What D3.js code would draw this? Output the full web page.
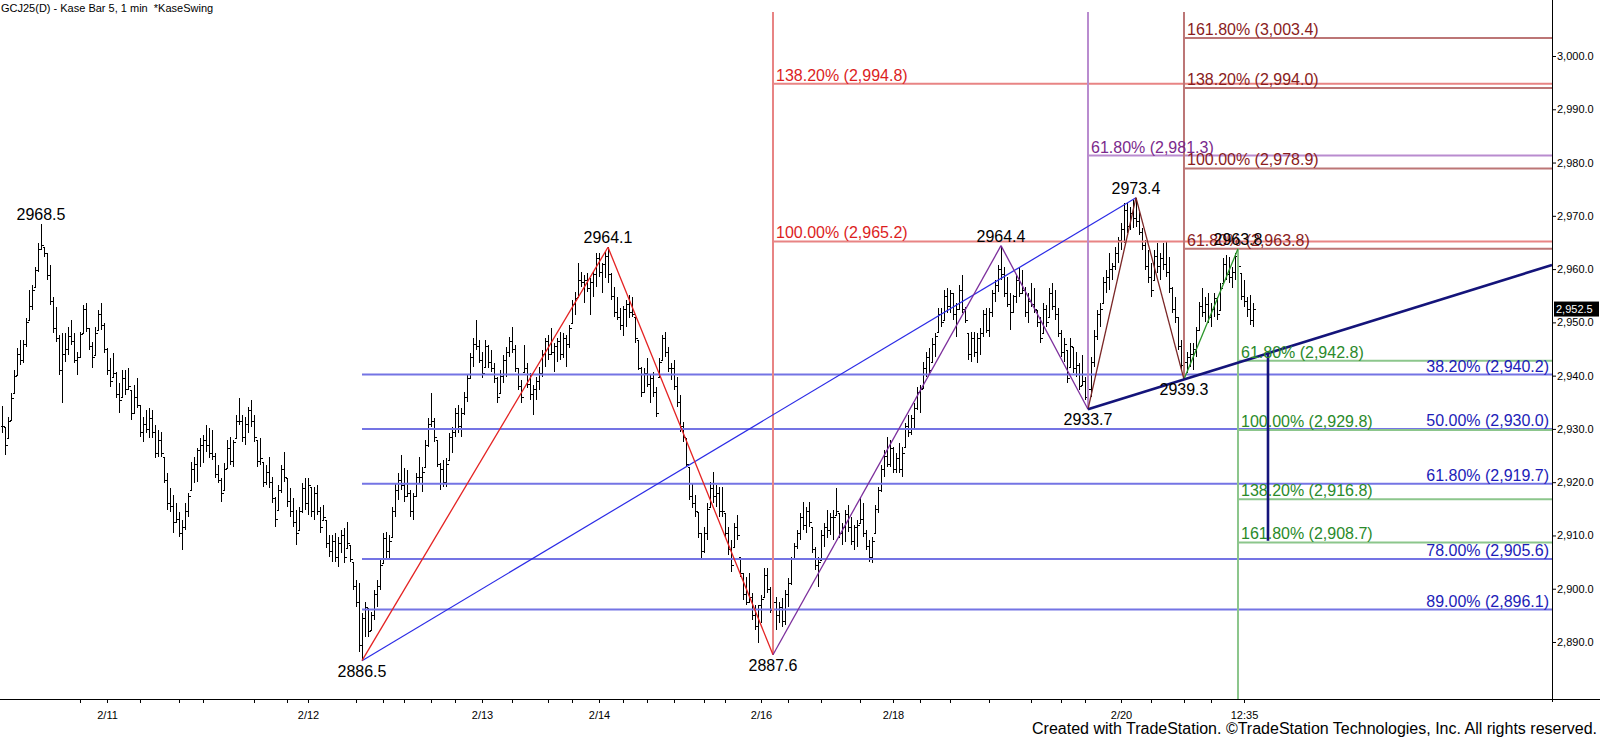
<!DOCTYPE html>
<html>
<meta charset="utf-8">
<style>
    body { margin: 0; background: #ffffff; }
    svg { display: block; background: #ffffff; }
    text { font-family: 'Liberation Sans', Arial, sans-serif; }
    .axis text { font-size: 11px; fill: #000; }
    .axis line, .axis path { stroke: #000; }
</style>
<body>
<svg width="1600" height="739"></svg>

<script src="https://d3js.org/d3.v7.min.js"></script>
<script>
    // bar data, one entry per bar
    let highs = [2934.3,2930.4,2932.2,2936.7,2941.0,2945.2,2946.7,2946.7,2950.8,2956.0,2957.0,2960.4,2964.9,2968.5,2964.1,2963.0,2960.8,2954.8,2952.9,2947.6,
      2948.0,2948.0,2949.1,2950.4,2948.0,2944.4,2948.2,2953.3,2953.6,2948.9,2946.3,2949.1,2952.3,2953.6,2949.9,2945.2,2943.3,2944.2,2940.7,2938.6,
      2941.0,2941.0,2941.4,2937.3,2938.2,2939.6,2934.5,2932.2,2933.5,2933.9,2933.5,2930.7,2929.8,2929.4,2924.7,2921.7,2918.9,2917.6,2916.1,2914.4,
      2912.9,2916.1,2918.0,2923.8,2924.7,2926.5,2928.3,2928.9,2930.7,2930.2,2929.8,2925.5,2923.2,2920.8,2923.6,2928.0,2928.5,2928.0,2932.6,2935.8,
      2932.6,2932.2,2934.1,2935.4,2932.6,2928.0,2928.3,2923.8,2923.2,2924.7,2921.0,2917.2,2919.5,2923.2,2925.7,2920.8,2918.9,2917.0,2914.8,2915.3,
      2919.8,2920.8,2920.8,2919.1,2919.1,2919.5,2915.3,2915.7,2912.9,2910.1,2910.1,2910.5,2909.7,2911.0,2911.4,2912.5,2908.2,2905.0,2901.6,2901.1,
      2895.4,2897.5,2896.4,2895.6,2899.8,2901.6,2905.4,2910.5,2910.6,2910.1,2915.3,2919.8,2921.7,2925.1,2922.7,2922.3,2918.5,2918.0,2921.7,2924.7,
      2922.8,2927.9,2932.0,2936.7,2932.0,2927.9,2923.6,2924.2,2924.5,2929.2,2930.4,2933.9,2934.5,2933.9,2936.9,2940.1,2944.2,2947.1,2950.4,2946.7,
      2944.4,2946.7,2945.7,2944.8,2942.4,2939.7,2941.0,2943.9,2945.4,2947.3,2949.1,2945.7,2941.4,2939.2,2945.7,2942.4,2940.5,2938.2,2939.7,2941.6,
      2944.8,2947.1,2947.6,2948.9,2946.1,2947.1,2948.2,2948.0,2947.6,2949.5,2954.2,2955.7,2961.1,2959.5,2958.9,2959.3,2958.3,2959.5,2963.0,2963.0,
      2961.1,2963.2,2964.1,2959.3,2956.6,2954.8,2952.7,2953.0,2954.2,2955.1,2954.8,2951.0,2946.7,2941.6,2941.4,2943.3,2940.1,2940.7,2937.9,2943.3,
      2947.6,2948.2,2945.4,2942.4,2942.9,2939.7,2936.4,2931.3,2928.3,2922.8,2919.8,2917.6,2914.4,2910.5,2911.6,2916.1,2920.0,2921.9,2919.5,2919.1,
      2919.1,2914.2,2911.6,2909.1,2912.3,2913.8,2906.0,2902.9,2902.2,2902.9,2899.2,2896.9,2896.9,2898.8,2903.9,2903.9,2900.3,2898.4,2898.4,2897.5,
      2898.3,2899.8,2902.0,2906.0,2908.6,2911.0,2914.2,2916.3,2915.3,2916.3,2911.6,2907.8,2906.0,2911.0,2912.3,2914.8,2914.2,2914.8,2918.9,2914.2,
      2912.3,2914.8,2915.7,2913.5,2912.0,2912.9,2917.2,2916.1,2911.0,2909.1,2909.7,2915.7,2919.1,2923.2,2926.0,2928.5,2927.9,2926.6,2925.5,2927.4,
      2926.6,2931.1,2932.6,2932.6,2934.9,2937.9,2938.2,2942.6,2944.4,2945.2,2947.1,2948.0,2952.7,2952.7,2956.1,2956.4,2956.1,2955.5,2953.6,2957.0,
      2958.9,2952.9,2948.0,2948.2,2948.2,2948.0,2948.9,2952.3,2952.7,2952.7,2956.1,2958.0,2960.8,2964.4,2960.4,2958.5,2955.5,2955.1,2958.9,2960.2,
      2959.8,2956.6,2955.5,2957.4,2956.4,2952.3,2951.0,2953.6,2953.3,2956.4,2957.4,2956.1,2952.7,2948.6,2947.1,2944.8,2947.1,2945.4,2944.4,2942.4,
      2943.9,2939.7,2938.2,2943.5,2948.6,2952.3,2953.6,2958.5,2959.8,2963.0,2961.1,2964.1,2966.0,2968.6,2972.4,2972.4,2971.7,2973.0,2973.4,2971.1,
      2967.7,2965.5,2963.6,2961.1,2963.6,2964.9,2963.0,2964.9,2965.1,2962.3,2956.6,2954.8,2951.0,2946.7,2943.5,2944.4,2946.1,2946.1,2949.1,2953.8,
      2956.4,2954.8,2955.5,2953.6,2955.5,2954.8,2957.4,2962.1,2962.6,2962.3,2960.4,2963.0,2963.8,2959.3,2958.0,2954.8,2955.1,2953.6];

    let lows = [2929.2,2925.1,2928.3,2931.7,2936.7,2940.1,2942.0,2942.4,2945.4,2950.4,2952.3,2956.6,2959.5,2963.6,2962.3,2958.0,2953.3,2948.0,2946.3,2940.1,
      2934.9,2942.6,2943.9,2945.7,2942.4,2940.1,2943.3,2948.0,2948.2,2944.8,2941.4,2943.9,2948.6,2948.6,2944.2,2940.1,2937.9,2939.7,2935.8,2933.0,
      2936.0,2936.4,2937.3,2931.7,2933.0,2933.9,2928.5,2927.5,2929.2,2928.3,2928.3,2924.5,2924.7,2924.7,2919.8,2914.8,2914.4,2910.5,2912.3,2909.7,
      2907.3,2911.0,2913.5,2918.5,2919.8,2920.0,2922.8,2923.6,2925.7,2924.5,2924.2,2920.8,2919.8,2916.3,2918.5,2922.7,2923.2,2922.8,2928.3,2930.7,
      2927.5,2927.0,2929.2,2930.4,2927.5,2922.8,2923.2,2919.1,2919.5,2918.9,2916.1,2911.6,2914.8,2918.0,2920.0,2915.4,2913.5,2911.6,2908.2,2911.0,
      2914.2,2914.8,2913.8,2913.5,2912.9,2913.8,2910.5,2912.9,2907.6,2906.0,2905.0,2905.0,2904.1,2906.7,2904.8,2907.6,2905.0,2899.8,2896.6,2888.1,
      2886.5,2890.9,2890.9,2892.2,2894.1,2896.6,2899.8,2904.8,2905.8,2905.8,2909.7,2913.5,2916.7,2918.5,2916.3,2917.2,2913.5,2912.9,2917.2,2919.8,
      2918.2,2922.8,2926.6,2930.4,2927.5,2922.8,2918.5,2919.1,2919.1,2924.2,2925.5,2928.5,2929.2,2928.5,2932.6,2935.0,2939.6,2941.6,2944.8,2942.4,
      2939.6,2941.6,2941.4,2940.7,2938.7,2934.9,2936.7,2938.6,2939.7,2943.5,2944.2,2940.7,2937.3,2934.9,2940.7,2937.7,2935.4,2932.6,2935.4,2937.3,
      2939.7,2941.6,2942.9,2943.9,2940.7,2942.6,2942.9,2943.3,2941.6,2945.2,2949.9,2951.4,2954.8,2956.6,2953.6,2955.7,2951.4,2954.8,2956.6,2958.5,
      2955.5,2958.3,2957.4,2954.2,2951.0,2950.4,2948.6,2947.5,2949.1,2950.8,2951.0,2946.1,2941.0,2936.0,2936.7,2937.9,2934.9,2936.0,2932.2,2939.7,
      2942.9,2943.5,2940.7,2939.2,2937.3,2934.1,2929.4,2927.5,2922.8,2916.7,2915.1,2913.5,2909.5,2905.8,2906.7,2909.1,2915.3,2916.1,2915.3,2913.5,
      2913.5,2909.7,2906.3,2903.1,2907.8,2909.1,2902.2,2897.9,2896.9,2897.5,2894.1,2892.2,2889.8,2893.5,2898.4,2899.2,2895.4,2887.6,2892.2,2893.5,
      2892.8,2893.2,2896.5,2900.7,2905.4,2907.5,2909.1,2911.0,2910.5,2911.6,2906.7,2903.5,2900.3,2905.4,2907.8,2909.5,2910.0,2909.1,2913.8,2909.5,
      2908.2,2908.8,2910.6,2908.2,2907.3,2907.8,2912.3,2909.7,2907.3,2905.0,2904.8,2910.5,2914.2,2918.2,2921.0,2922.8,2922.8,2921.7,2921.7,2921.7,
      2921.0,2926.6,2928.5,2928.9,2930.2,2933.5,2933.0,2937.7,2939.7,2940.1,2942.6,2943.5,2948.2,2949.1,2950.4,2951.8,2951.8,2950.4,2947.3,2952.3,
      2951.8,2949.9,2942.9,2942.6,2943.5,2942.4,2943.9,2947.3,2948.0,2947.3,2951.0,2953.8,2955.7,2958.0,2954.8,2952.9,2948.6,2951.8,2953.6,2954.8,
      2955.5,2951.0,2949.9,2952.9,2951.8,2949.1,2946.1,2948.0,2949.1,2951.0,2952.3,2950.4,2947.3,2943.5,2942.6,2938.6,2941.6,2940.5,2939.7,2937.3,
      2938.2,2935.4,2933.7,2936.0,2941.6,2946.7,2949.1,2953.6,2955.5,2956.1,2958.0,2959.8,2961.1,2963.6,2964.9,2966.8,2967.3,2967.7,2967.9,2966.4,
      2963.6,2959.8,2957.4,2954.8,2958.0,2959.3,2958.0,2959.8,2958.5,2955.5,2951.8,2949.9,2944.8,2941.0,2939.3,2940.5,2941.6,2941.0,2943.5,2948.6,
      2951.0,2950.1,2949.9,2949.1,2951.0,2950.4,2952.3,2957.4,2958.0,2957.4,2956.4,2958.0,2959.8,2954.2,2952.9,2951.0,2949.5,2949.1];

    let closes = [2930.5,2927.0,2931.5,2935.8,2940.0,2944.0,2943.0,2945.9,2950.0,2953.0,2956.0,2959.8,2963.8,2964.5,2963.0,2958.8,2954.0,2949.0,2947.0,2941.0,
      2944.0,2945.0,2947.5,2946.5,2943.0,2943.5,2947.8,2952.5,2949.0,2945.5,2943.5,2948.0,2951.5,2949.5,2945.0,2941.0,2939.0,2940.5,2936.5,2935.5,
      2939.5,2937.5,2938.0,2933.0,2936.0,2934.5,2929.5,2931.0,2930.0,2932.0,2929.5,2925.5,2928.0,2925.5,2920.5,2916.0,2915.5,2912.5,2913.0,2910.5,
      2911.5,2914.5,2917.5,2922.5,2923.5,2926.0,2927.0,2928.0,2927.0,2925.5,2925.0,2921.5,2920.5,2918.0,2922.5,2926.5,2924.0,2927.5,2931.5,2931.5,
      2928.5,2931.0,2933.5,2931.5,2928.5,2924.0,2924.5,2920.0,2922.0,2920.0,2917.0,2913.0,2918.5,2922.5,2921.0,2916.5,2914.5,2912.5,2910.5,2914.5,
      2919.0,2916.0,2919.5,2914.5,2918.0,2914.5,2911.5,2913.5,2908.5,2907.0,2909.0,2906.0,2908.5,2910.0,2906.0,2908.5,2905.5,2900.5,2897.5,2889.5,
      2894.5,2896.5,2892.0,2895.0,2899.0,2900.5,2904.5,2909.5,2907.0,2909.0,2914.5,2918.5,2920.5,2919.5,2917.5,2918.0,2914.5,2917.5,2921.0,2921.0,
      2922.0,2927.0,2931.0,2931.5,2928.5,2923.5,2922.5,2920.0,2923.5,2928.5,2929.5,2933.0,2930.5,2933.0,2936.0,2939.5,2943.5,2946.0,2945.5,2943.0,
      2940.5,2945.5,2942.5,2941.5,2939.5,2936.0,2940.0,2943.0,2944.5,2946.5,2945.0,2941.5,2938.0,2936.0,2941.5,2938.5,2936.5,2937.5,2939.0,2940.5,
      2944.0,2946.5,2944.0,2944.5,2945.5,2946.5,2944.0,2947.0,2946.0,2949.0,2953.5,2954.5,2958.0,2957.5,2958.0,2956.5,2957.5,2959.0,2962.0,2959.5,
      2961.0,2962.5,2959.0,2955.0,2952.0,2951.0,2949.5,2952.5,2953.5,2952.0,2951.5,2947.0,2941.5,2937.0,2940.5,2938.5,2939.5,2937.0,2933.0,2942.5,
      2947.0,2944.5,2941.5,2941.5,2938.0,2935.0,2930.5,2928.5,2923.5,2917.5,2916.0,2914.5,2910.5,2907.0,2910.5,2915.0,2919.0,2917.5,2918.0,2914.5,
      2914.5,2910.5,2907.5,2904.5,2911.5,2910.0,2903.0,2899.0,2897.5,2898.5,2895.0,2893.0,2897.0,2898.0,2902.5,2900.0,2896.0,2897.5,2895.0,2896.5,
      2894.0,2899.0,2901.0,2905.5,2908.0,2910.5,2913.5,2912.0,2914.5,2912.5,2907.5,2904.5,2905.0,2910.0,2911.5,2911.0,2913.5,2913.5,2914.5,2910.5,
      2911.5,2914.0,2911.5,2909.0,2911.5,2912.0,2913.0,2910.5,2908.0,2906.0,2909.0,2915.0,2918.5,2922.5,2925.0,2923.5,2926.5,2922.5,2924.5,2922.5,
      2925.5,2930.5,2929.5,2932.0,2934.0,2937.0,2937.5,2941.5,2943.5,2941.0,2946.0,2947.5,2951.5,2950.0,2955.0,2953.0,2955.5,2951.5,2952.5,2956.0,
      2952.5,2950.5,2944.0,2947.0,2944.5,2947.0,2948.0,2951.5,2948.5,2952.0,2955.5,2957.0,2960.0,2959.0,2955.5,2953.5,2952.0,2955.0,2958.0,2955.5,
      2956.0,2952.0,2954.0,2953.5,2952.5,2950.0,2947.0,2952.5,2950.0,2955.5,2953.0,2951.5,2948.0,2944.5,2946.0,2939.5,2945.5,2941.5,2942.0,2938.0,
      2939.0,2936.0,2937.5,2942.5,2947.5,2951.5,2952.5,2957.5,2958.5,2960.0,2960.5,2963.0,2965.5,2967.5,2971.0,2968.0,2970.5,2969.5,2969.0,2967.0,
      2964.5,2960.5,2958.5,2956.0,2962.5,2960.5,2962.0,2961.0,2959.5,2956.5,2952.5,2951.0,2945.5,2942.0,2942.5,2943.5,2944.0,2945.0,2948.5,2953.0,
      2952.0,2953.5,2951.0,2952.5,2954.5,2951.5,2956.5,2961.0,2959.0,2958.5,2959.5,2962.5,2960.5,2955.0,2954.0,2952.5,2950.5,2952.5];

    // x axis: bar index of each tick, and the labelled ones
    let minorTicks = [26,46,59,67,84,95,118,127,134,143,151,170,182,190,207,215,224,234,241,262,273,286,306,316,329,343,353,361,383,394,403];
    let labelTicks = [35,102,160,199,253,297,373,414];
    let labelTexts = ["2/11","2/12","2/13","2/14","2/16","2/18","2/20","12:35"];
    let priceTicks = [2890,2900,2910,2920,2930,2940,2950,2960,2970,2980,2990,3000];

    // swing points (bar index, price, label above?)
    let swingIdx = [13,120,202,257,333,362,378,394,412];
    let swingVal = [2968.5,2886.5,2964.1,2887.6,2964.4,2933.7,2973.4,2939.3,2963.8];
    let swingUp  = [true,false,true,false,true,false,true,false,true];

    // fib levels per study
    let redPct = [138.2,100.0], redVal = [2994.8,2965.2];
    let brownPct = [161.8,138.2,100.0,61.8], brownVal = [3003.4,2994.0,2978.9,2963.8];
    let purplePct = [61.8], purpleVal = [2981.3];
    let greenPct = [61.8,100.0,138.2,161.8], greenVal = [2942.8,2929.8,2916.8,2908.7];
    let bluePct = [38.2,50.0,61.8,78.0,89.0], blueVal = [2940.2,2930.0,2919.7,2905.6,2896.1];

    let lastPrice = 2952.5;
    let trendA = [362,2933.7], trendB = [394,2939.3];
    let measureIdx = 422, measureLow = 2909.0;

    let plotRight = 1552, plotBottom = 699;

    let svg = d3.select("svg");

    let xScale = d3.scaleLinear().domain([0, 516.67]).range([2, plotRight]);
    let yScale = d3.scaleLinear().domain([2890, 3000]).range([642, 56]);
    let yTop = yScale.invert(12);

    // title
    svg.append("text").attr("x", 1).attr("y", 12).style("font-size", "11px").style("white-space", "pre")
       .text("GCJ25(D) - Kase Bar 5, 1 min  *KaseSwing");

    // bars
    let bars = svg.append("g").attr("stroke", "#000").attr("stroke-width", 1).attr("shape-rendering", "crispEdges");
    let barData = highs.map((h, i) => ({i: i, h: h, l: lows[i], c: closes[i],
        o: Math.max(lows[i], Math.min(h, i > 0 ? closes[i-1] : closes[i]))}));
    barData.forEach(function(d) {
        let x = Math.round(xScale(d.i)) + 0.5;
        bars.append("line").attr("x1", x).attr("x2", x).attr("y1", yScale(d.h)).attr("y2", yScale(d.l));
        bars.append("line").attr("x1", x - 2).attr("x2", x).attr("y1", Math.round(yScale(d.o)) + 0.5).attr("y2", Math.round(yScale(d.o)) + 0.5);
        bars.append("line").attr("x1", x).attr("x2", x + 2).attr("y1", Math.round(yScale(d.c)) + 0.5).attr("y2", Math.round(yScale(d.c)) + 0.5);
    });

    let fmt = d3.format(",.1f");
    function levelText(p, v) { return p.toFixed(2) + "% (" + fmt(v) + ")"; }

    // fib studies
    let studies = [
        {pct: bluePct, val: blueVal, from: 120, line: "#7474e4", text: "#1c1cb8", align: "end"},
        {pct: redPct, val: redVal, from: 257, line: "#e88484", text: "#dc1e1e", align: "start", vTop: yTop, vBot: 2887.6},
        {pct: purplePct, val: purpleVal, from: 362, line: "#b98ccf", text: "#7b2a8c", align: "start", vTop: yTop, vBot: 2933.7},
        {pct: brownPct, val: brownVal, from: 394, line: "#bc7676", text: "#8a1c1c", align: "start", vTop: yTop, vBot: 2939.3},
        {pct: greenPct, val: greenVal, from: 412, line: "#8cc68c", text: "#2a8a2a", align: "start", vTop: 2963.8, vBot: yScale.invert(plotBottom)}
    ];

    let fibG = svg.append("g");
    studies.forEach(function(s) {
        let x0 = xScale(s.from);
        if (s.vTop !== undefined) {
            fibG.append("line").attr("x1", x0).attr("x2", x0).attr("y1", yScale(s.vTop)).attr("y2", yScale(s.vBot))
                .attr("stroke", s.line).attr("stroke-width", 2);
        }
        s.val.forEach(function(v, k) {
            fibG.append("line").attr("x1", x0).attr("x2", plotRight).attr("y1", yScale(v)).attr("y2", yScale(v))
                .attr("stroke", s.line).attr("stroke-width", 2);
        });
    });

    // swing lines
    function seg(a, b, color, w) {
        svg.append("line").attr("x1", xScale(swingIdx[a])).attr("y1", yScale(swingVal[a]))
           .attr("x2", xScale(swingIdx[b])).attr("y2", yScale(swingVal[b]))
           .attr("stroke", color).attr("stroke-width", w);
    }
    seg(1, 6, "#2b2be6", 1.2);
    seg(1, 2, "#e42222", 1.3);
    seg(2, 3, "#e42222", 1.3);
    seg(3, 4, "#7c2e9c", 1.3);
    seg(4, 5, "#7c2e9c", 1.3);
    seg(5, 6, "#7a2626", 1.3);
    seg(6, 7, "#7a2626", 1.3);
    seg(7, 8, "#2a962a", 1.3);

    // trend line through the two lows, run to the right edge
    let slope = (trendB[1] - trendA[1]) / (trendB[0] - trendA[0]);
    let endIdx = xScale.invert(plotRight);
    svg.append("line").attr("x1", xScale(trendA[0])).attr("y1", yScale(trendA[1]))
       .attr("x2", plotRight).attr("y2", yScale(trendA[1] + slope * (endIdx - trendA[0])))
       .attr("stroke", "#14147a").attr("stroke-width", 2.6);
    svg.append("line").attr("x1", xScale(measureIdx)).attr("x2", xScale(measureIdx))
       .attr("y1", yScale(trendA[1] + slope * (measureIdx - trendA[0]))).attr("y2", yScale(measureLow))
       .attr("stroke", "#14147a").attr("stroke-width", 2.6);

    // fib labels
    studies.forEach(function(s) {
        s.val.forEach(function(v, k) {
            svg.append("text")
               .attr("x", s.align === "end" ? plotRight - 3 : xScale(s.from) + 3)
               .attr("y", yScale(v) - 3)
               .attr("text-anchor", s.align)
               .style("font-size", "16px").style("fill", s.text)
               .text(levelText(s.pct[k], v));
        });
    });

    // swing labels
    swingIdx.forEach(function(idx, k) {
        svg.append("text").attr("x", xScale(idx)).attr("y", yScale(swingVal[k]) + (swingUp[k] ? -4 : 16))
           .attr("text-anchor", "middle").style("font-size", "16px").style("fill", "#000")
           .text(swingVal[k].toFixed(1));
    });

    // right price axis
    let yAxis = d3.axisRight(yScale).tickValues(priceTicks).tickFormat(fmt).tickSize(4).tickPadding(1);
    let yAxisG = svg.append("g").attr("class", "axis").attr("transform", "translate(" + plotRight + ",0)").call(yAxis);
    yAxisG.select(".domain").remove();
    svg.append("line").attr("x1", plotRight + 0.5).attr("x2", plotRight + 0.5).attr("y1", 0).attr("y2", plotBottom + 3)
       .attr("stroke", "#000").attr("stroke-width", 1);

    // last price tag
    svg.append("rect").attr("x", plotRight + 2).attr("y", yScale(lastPrice) - 7.5).attr("width", 45).attr("height", 15).attr("fill", "#000");
    svg.append("text").attr("x", plotRight + 4).attr("y", yScale(lastPrice) + 4).style("font-size", "11px").style("fill", "#fff")
       .text(fmt(lastPrice));

    // bottom time axis
    let xAxis = d3.axisBottom(xScale).tickValues(minorTicks.concat(labelTicks)).tickSize(4).tickPadding(8)
        .tickFormat(function(d) { let k = labelTicks.indexOf(d); return k >= 0 ? labelTexts[k] : ""; });
    let xAxisG = svg.append("g").attr("class", "axis").attr("transform", "translate(0," + plotBottom + ")").call(xAxis);
    xAxisG.select(".domain").remove();
    svg.append("line").attr("x1", 0).attr("x2", 1600).attr("y1", plotBottom + 0.5).attr("y2", plotBottom + 0.5)
       .attr("stroke", "#000").attr("stroke-width", 1);

    // footer
    svg.append("text").attr("x", 1597).attr("y", 734).attr("text-anchor", "end").style("font-size", "16px")
       .text("Created with TradeStation. \u00A9TradeStation Technologies, Inc. All rights reserved.");
</script>
</body>
</html>
